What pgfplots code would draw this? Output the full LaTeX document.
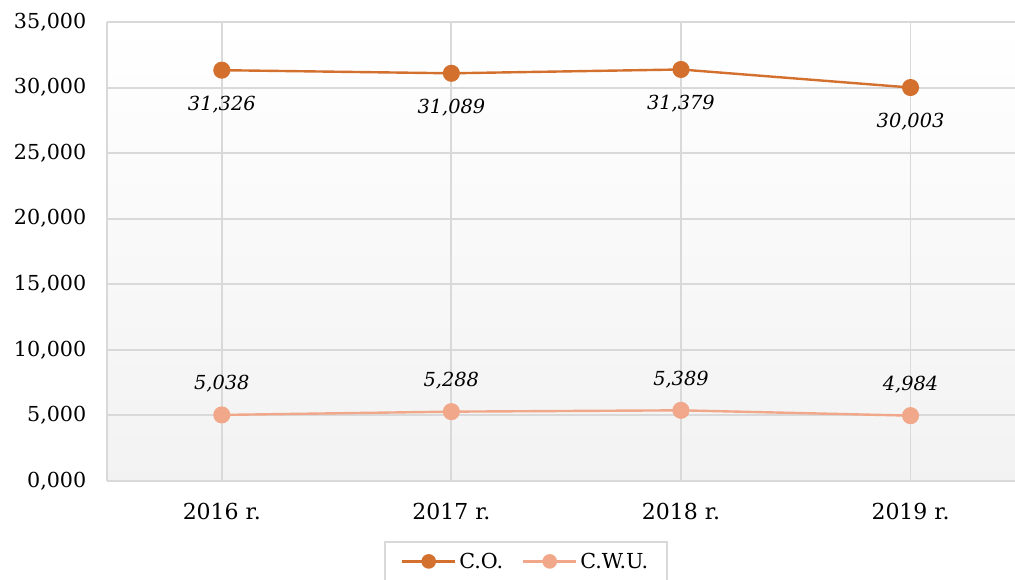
\documentclass[border=0pt]{standalone}
\usepackage{pgfplots}
\pgfplotsset{compat=1.18}
\usepackage{fontspec}
\setmainfont{DejaVu Serif}
\definecolor{coline}{RGB}{212,112,46}
\definecolor{cwuline}{RGB}{241,168,138}
\definecolor{gridc}{RGB}{217,217,217}
\begin{document}
\begin{tikzpicture}[x=1pt,y=1pt]
\begin{axis}[
    scale only axis,
    width=681pt, height=344.25pt,
    xmin=-0.5, xmax=3.455,
    ymin=0, ymax=35,
    xtick={0,1,2,3},
    xticklabels={2016 r., 2017 r., 2018 r., 2019 r.},
    ytick={0,5,...,35},
    grid=major,
    grid style={gridc, line width=1.4pt},
    axis lines*=left,
    axis line style={gridc, line width=1.4pt},
    tick style={draw=none},
    axis background/.style={top color=white, bottom color=black!5},
    font=\fontsize{15.5pt}{18pt}\selectfont,
    /pgf/number format/assume math mode=true,
    yticklabel={\pgfmathprintnumber[fixed, fixed zerofill, precision=3, use comma]{\tick}},
    yticklabel style={xshift=-12pt},
    xticklabel style={yshift=-13pt, font=\fontsize{16.5pt}{19pt}\selectfont},
    clip=false,
    legend columns=2,
    legend style={at={(axis description cs:0.305,-0.131)}, anchor=north west,
        draw=gridc, line width=1.4pt, fill=white,
        font=\fontsize{15.5pt}{18pt}\selectfont,
        /tikz/every even column/.append style={column sep=12pt},
        inner xsep=12pt, inner ysep=6pt},
    legend image code/.code={
        \draw[#1, line width=1.8pt] (0pt,0pt) -- (40pt,0pt);
        \fill[#1, draw=none] (20pt,0pt) circle (5.5pt);
    },
    nodes near coords={\pgfmathprintnumber[fixed, fixed zerofill, precision=3, use comma, assume math mode=true]{\pgfplotspointmeta}},
    every node near coord/.append style={font=\fontsize{14.5pt}{17pt}\selectfont\itshape},
]
\addplot[coline, line width=1.8pt, mark=*, mark size=5.5pt,
    nodes near coords style={anchor=north, yshift=-15pt, text=black}]
    coordinates {(0,31.326) (1,31.089) (2,31.379) (3,30.003)};
\addplot[cwuline, line width=1.8pt, mark=*, mark size=5.5pt,
    nodes near coords style={anchor=south, yshift=12.5pt, text=black}]
    coordinates {(0,5.038) (1,5.288) (2,5.389) (3,4.984)};
\legend{C.O., C.W.U.}
\end{axis}
\pgfresetboundingbox
\path (-80.25pt,-73.5pt) rectangle (681pt,360.75pt);
\end{tikzpicture}
\end{document}
